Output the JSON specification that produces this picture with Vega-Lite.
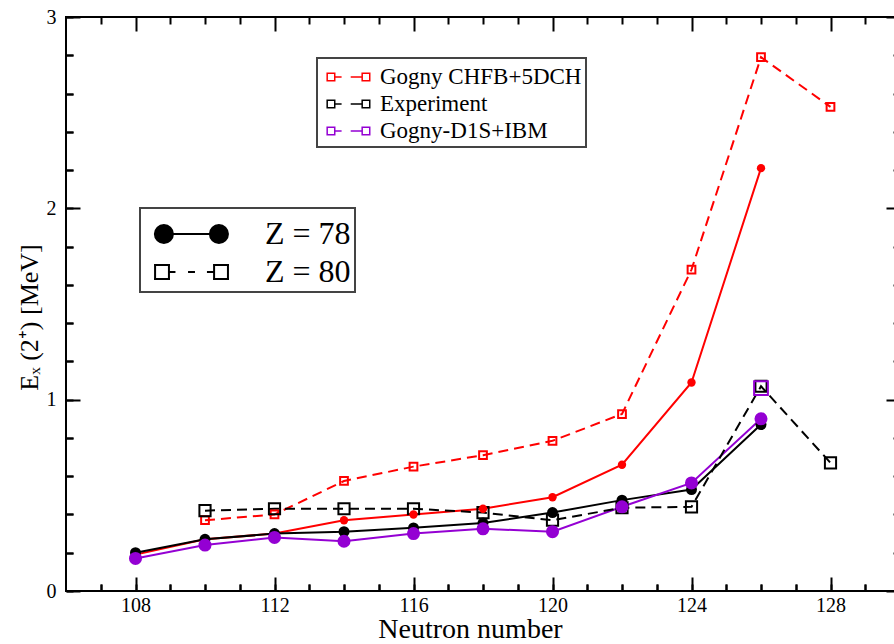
{
  "$schema": "https://vega.github.io/schema/vega-lite/v6.json",
  "width": 834,
  "height": 574,
  "autosize": "none",
  "padding": {"left": 66, "top": 17, "right": -6, "bottom": 53},
  "background": "white",
  "config": {
    "font": "Liberation Serif",
    "view": {"stroke": "black", "strokeWidth": 2},
    "axis": {
      "domainColor": "black",
      "domainWidth": 2,
      "tickColor": "black",
      "tickWidth": 2,
      "labelColor": "black",
      "labelFont": "Liberation Serif",
      "labelFontSize": 20,
      "labelOverlap": false,
      "labelFlush": false,
      "titleFont": "Liberation Serif",
      "titleFontWeight": "normal",
      "titleColor": "black"
    },
    "legend": {"strokeWidth": 2}
  },
  "data": {
    "values": [
      {"N": 108, "E": 0.19, "model": "Gogny CHFB+5DCH", "Z": "Z = 78"},
      {"N": 110, "E": 0.27, "model": "Gogny CHFB+5DCH", "Z": "Z = 78"},
      {"N": 112, "E": 0.30, "model": "Gogny CHFB+5DCH", "Z": "Z = 78"},
      {"N": 114, "E": 0.37, "model": "Gogny CHFB+5DCH", "Z": "Z = 78"},
      {"N": 116, "E": 0.40, "model": "Gogny CHFB+5DCH", "Z": "Z = 78"},
      {"N": 118, "E": 0.43, "model": "Gogny CHFB+5DCH", "Z": "Z = 78"},
      {"N": 120, "E": 0.49, "model": "Gogny CHFB+5DCH", "Z": "Z = 78"},
      {"N": 122, "E": 0.66, "model": "Gogny CHFB+5DCH", "Z": "Z = 78"},
      {"N": 124, "E": 1.09, "model": "Gogny CHFB+5DCH", "Z": "Z = 78"},
      {"N": 126, "E": 2.21, "model": "Gogny CHFB+5DCH", "Z": "Z = 78"},
      {"N": 108, "E": 0.20, "model": "Experiment", "Z": "Z = 78"},
      {"N": 110, "E": 0.27, "model": "Experiment", "Z": "Z = 78"},
      {"N": 112, "E": 0.30, "model": "Experiment", "Z": "Z = 78"},
      {"N": 114, "E": 0.31, "model": "Experiment", "Z": "Z = 78"},
      {"N": 116, "E": 0.33, "model": "Experiment", "Z": "Z = 78"},
      {"N": 118, "E": 0.355, "model": "Experiment", "Z": "Z = 78"},
      {"N": 120, "E": 0.41, "model": "Experiment", "Z": "Z = 78"},
      {"N": 122, "E": 0.475, "model": "Experiment", "Z": "Z = 78"},
      {"N": 124, "E": 0.53, "model": "Experiment", "Z": "Z = 78"},
      {"N": 126, "E": 0.87, "model": "Experiment", "Z": "Z = 78"},
      {"N": 108, "E": 0.17, "model": "Gogny-D1S+IBM", "Z": "Z = 78"},
      {"N": 110, "E": 0.24, "model": "Gogny-D1S+IBM", "Z": "Z = 78"},
      {"N": 112, "E": 0.28, "model": "Gogny-D1S+IBM", "Z": "Z = 78"},
      {"N": 114, "E": 0.26, "model": "Gogny-D1S+IBM", "Z": "Z = 78"},
      {"N": 116, "E": 0.30, "model": "Gogny-D1S+IBM", "Z": "Z = 78"},
      {"N": 118, "E": 0.325, "model": "Gogny-D1S+IBM", "Z": "Z = 78"},
      {"N": 120, "E": 0.31, "model": "Gogny-D1S+IBM", "Z": "Z = 78"},
      {"N": 122, "E": 0.44, "model": "Gogny-D1S+IBM", "Z": "Z = 78"},
      {"N": 124, "E": 0.565, "model": "Gogny-D1S+IBM", "Z": "Z = 78"},
      {"N": 126, "E": 0.90, "model": "Gogny-D1S+IBM", "Z": "Z = 78"},
      {"N": 110, "E": 0.37, "model": "Gogny CHFB+5DCH", "Z": "Z = 80"},
      {"N": 112, "E": 0.40, "model": "Gogny CHFB+5DCH", "Z": "Z = 80"},
      {"N": 114, "E": 0.575, "model": "Gogny CHFB+5DCH", "Z": "Z = 80"},
      {"N": 116, "E": 0.65, "model": "Gogny CHFB+5DCH", "Z": "Z = 80"},
      {"N": 118, "E": 0.71, "model": "Gogny CHFB+5DCH", "Z": "Z = 80"},
      {"N": 120, "E": 0.785, "model": "Gogny CHFB+5DCH", "Z": "Z = 80"},
      {"N": 122, "E": 0.925, "model": "Gogny CHFB+5DCH", "Z": "Z = 80"},
      {"N": 124, "E": 1.68, "model": "Gogny CHFB+5DCH", "Z": "Z = 80"},
      {"N": 126, "E": 2.79, "model": "Gogny CHFB+5DCH", "Z": "Z = 80"},
      {"N": 128, "E": 2.53, "model": "Gogny CHFB+5DCH", "Z": "Z = 80"},
      {"N": 110, "E": 0.42, "model": "Experiment", "Z": "Z = 80"},
      {"N": 112, "E": 0.43, "model": "Experiment", "Z": "Z = 80"},
      {"N": 114, "E": 0.43, "model": "Experiment", "Z": "Z = 80"},
      {"N": 116, "E": 0.43, "model": "Experiment", "Z": "Z = 80"},
      {"N": 118, "E": 0.41, "model": "Experiment", "Z": "Z = 80"},
      {"N": 120, "E": 0.37, "model": "Experiment", "Z": "Z = 80"},
      {"N": 122, "E": 0.435, "model": "Experiment", "Z": "Z = 80"},
      {"N": 124, "E": 0.44, "model": "Experiment", "Z": "Z = 80"},
      {"N": 126, "E": 1.07, "model": "Experiment", "Z": "Z = 80"},
      {"N": 128, "E": 0.67, "model": "Experiment", "Z": "Z = 80"},
      {"N": 126, "E": 1.06, "model": "Gogny-D1S+IBM", "Z": "Z = 80"}
    ]
  },
  "resolve": {
    "axis": {"x": "independent", "y": "independent"},
    "scale": {"size": "independent"}
  },
  "layer": [
    {
      "transform": [{"filter": "false"}],
      "mark": {"type": "point", "filled": true, "fill": "black", "stroke": "black", "strokeWidth": 2, "size": 1764},
      "encoding": {
        "x": {"field": "N", "type": "quantitative", "axis": null},
        "y": {"field": "E", "type": "quantitative", "axis": null},
        "shape": {
          "field": "Z", "type": "nominal",
          "scale": {"domain": ["Z = 78", "Z = 80"], "range": [
            "M-0.53,0A0.43,0.43 0 1,0 0.33,0A0.43,0.43 0 1,0 -0.53,0ZM2.09,0A0.43,0.43 0 1,0 2.95,0A0.43,0.43 0 1,0 2.09,0ZM0.33,0L2.09,0",
            "M-0.57,-0.33H0.19M0.14,-0.38V0.38M0.19,0.33H-0.57M-0.52,0.38V-0.38M2.24,-0.33H3.0M2.95,-0.38V0.38M3.0,0.33H2.24M2.29,0.38V-0.38M0.14,0H0.45M1.05,0H1.38M1.95,0H2.29"
          ]},
          "legend": {
            "title": null,
            "orient": "none",
            "legendX": 74,
            "legendY": 191,
            "padding": 4,
            "rowPadding": 0,
            "strokeColor": "#444444",
            "symbolSize": 1764,
            "symbolStrokeWidth": 2,
            "symbolOpacity": 1,
            "labelFont": "Liberation Serif",
            "labelFontSize": 32,
            "labelColor": "black",
            "labelLimit": 400,
            "labelOffset": 77,
            "labelExpr": "datum.label + ' '"
          }
        }
      }
    },
    {
      "transform": [{"filter": "datum.Z === 'Z = 78'"}],
      "mark": {"type": "line", "strokeWidth": 2},
      "encoding": {
        "x": {
          "field": "N", "type": "quantitative",
          "scale": {"domain": [106, 130], "nice": false, "zero": false},
          "axis": {
            "orient": "bottom",
            "zindex": 1,
            "domain": false,
            "ticks": true,
            "tickSize": 7,
            "offset": -7,
            "grid": true,
            "gridColor": "black",
            "gridWidth": 2,
            "gridOpacity": 1,
            "gridDash": {"condition": {"test": "datum.value % 4 === 0", "value": [14, 546, 14]}, "value": [7, 560, 7]},
            "values": [107,108,109,110,111,112,113,114,115,116,117,118,119,120,121,122,123,124,125,126,127,128,129],
            "labelExpr": "datum.value % 4 === 0 ? datum.label : ''",
            "labelPadding": 4,
            "title": "Neutron number",
            "titleFontSize": 28,
            "titlePadding": 0,
            "titleX": 404
          }
        },
        "y": {
          "field": "E", "type": "quantitative",
          "scale": {"domain": [0, 3], "nice": false},
          "axis": {
            "orient": "left",
            "zindex": 1,
            "domain": false,
            "ticks": true,
            "tickSize": 7,
            "offset": -7,
            "grid": true,
            "gridColor": "black",
            "gridWidth": 2,
            "gridOpacity": 1,
            "gridDash": {"condition": {"test": "abs(datum.value - round(datum.value)) < 0.01", "value": [14, 806, 14]}, "value": [7, 820, 7]},
            "values": [0,0.2,0.4,0.6,0.8,1,1.2,1.4,1.6,1.8,2,2.2,2.4,2.6,2.8,3],
            "labelExpr": "abs(datum.value - round(datum.value)) < 0.01 ? format(datum.value, 'd') : ''",
            "labelPadding": 10,
            "title": "Eₓ (2⁺)   [MeV]",
            "titleFontSize": 26,
            "titlePadding": 4,
            "titleY": 300
          }
        },
        "color": {
          "field": "model", "type": "nominal",
          "scale": {"domain": ["Gogny CHFB+5DCH", "Experiment", "Gogny-D1S+IBM"], "range": ["#ff0000", "#000000", "#9400d3"]},
          "legend": {
            "title": null,
            "orient": "none",
            "legendX": 251,
            "legendY": 41,
            "padding": 4,
            "rowPadding": 0,
            "strokeColor": "#444444",
            "symbolSize": 784,
            "symbolStrokeWidth": 1.5,
            "symbolFillColor": "transparent",
            "symbolType": "M-0.68,-0.27H-0.04M-0.09,-0.32V0.32M-0.04,0.27H-0.68M-0.63,0.32V-0.32M1.82,-0.27H2.46M2.41,-0.32V0.32M2.46,0.27H1.82M1.87,0.32V-0.32M-0.09,0H0.4M1.05,0H1.87",
            "labelFont": "Liberation Serif",
            "labelFontSize": 23,
            "labelColor": "black",
            "labelLimit": 400,
            "labelOffset": 29,
            "labelExpr": "datum.label + '   '"
          }
        }
      }
    },
    {
      "transform": [{"filter": "datum.Z === 'Z = 80'"}],
      "mark": {"type": "line", "strokeWidth": 2, "strokeDash": [10, 6]},
      "encoding": {
        "x": {"field": "N", "type": "quantitative", "axis": null},
        "y": {"field": "E", "type": "quantitative", "axis": null},
        "color": {"field": "model", "type": "nominal", "legend": null}
      }
    },
    {
      "transform": [{"filter": "datum.Z === 'Z = 80'"}],
      "mark": {"type": "point", "shape": "square", "filled": false, "strokeWidth": 2, "opacity": 1},
      "encoding": {
        "x": {"field": "N", "type": "quantitative", "axis": null},
        "y": {"field": "E", "type": "quantitative", "axis": null},
        "color": {"field": "model", "type": "nominal", "legend": null},
        "size": {
          "field": "model", "type": "nominal", "legend": null,
          "scale": {"domain": ["Gogny CHFB+5DCH", "Experiment", "Gogny-D1S+IBM"], "range": [60, 190, 100]}
        }
      }
    },
    {
      "transform": [{"filter": "datum.Z === 'Z = 78'"}],
      "mark": {"type": "point", "shape": "circle", "filled": true, "opacity": 1},
      "encoding": {
        "x": {"field": "N", "type": "quantitative", "axis": null},
        "y": {"field": "E", "type": "quantitative", "axis": null},
        "color": {"field": "model", "type": "nominal", "legend": null},
        "size": {
          "field": "model", "type": "nominal", "legend": null,
          "scale": {"domain": ["Gogny CHFB+5DCH", "Experiment", "Gogny-D1S+IBM"], "range": [70, 170, 110]}
        }
      }
    }
  ]
}
